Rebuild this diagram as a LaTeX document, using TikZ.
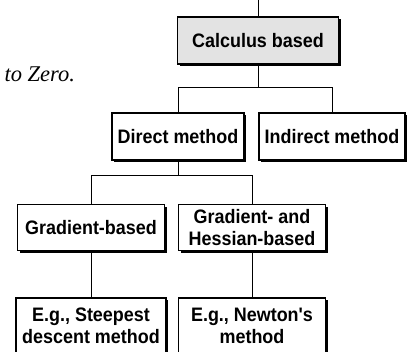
\documentclass[tikz,border=0pt]{standalone}
\usepackage{fontspec}
\setmainfont{Liberation Serif}
\newfontfamily\boxfont[FakeStretch=0.92]{Liberation Sans}
\usetikzlibrary{shadows}

\tikzset{
  methodbox/.style={draw=black, line width=1.1pt, fill=white, inner sep=0pt, align=center,
    font=\boxfont\bfseries\fontsize{19.5}{22.5}\selectfont,
    drop shadow={shadow xshift=2.4pt, shadow yshift=-2.4pt, opacity=1, fill=black}},
  link/.style={line width=0.9pt}
}

\begin{document}
\begin{tikzpicture}[x=1pt, y=-1pt]
\useasboundingbox (0,0) rectangle (410,352);
\node[anchor=base west, font=\itshape\fontsize{22.5}{27}\selectfont] (zero) at (1,82) {to Zero.};
\node[methodbox, fill=black!11, minimum width=161pt, minimum height=47pt] (calc) at (258,40.5) {Calculus based};
\node[methodbox, minimum width=132pt, minimum height=47pt] (direct) at (178,136.5) {Direct method};
\node[methodbox, minimum width=146pt, minimum height=47pt] (indirect) at (332,136.5) {Indirect method};
\node[methodbox, minimum width=147pt, minimum height=46pt] (grad) at (91,227.5) {Gradient-based};
\node[methodbox, minimum width=147pt, minimum height=46pt] (hess) at (252,227.5) {Gradient- and\\Hessian-based};
\node[methodbox, minimum width=150pt, minimum height=56pt] (steep) at (91,326) {E.g., Steepest\\descent method};
\node[methodbox, minimum width=147pt, minimum height=56pt] (newton) at (252,326) {E.g., Newton's\\method};
\coordinate (top) at (258,0);
\draw[link] (top) -- (calc.north);
\draw[link] (calc.south) -- ++(0,22.5) coordinate (b1);
\draw[link] (direct.north) |- (b1) -| (indirect.north);
\draw[link] (direct.south) -- ++(0,15) coordinate (b2);
\draw[link] (grad.north) |- (b2) -| (hess.north);
\draw[link] (grad.south) -- (steep.north);
\draw[link] (hess.south) -- (newton.north);
\end{tikzpicture}
\end{document}
